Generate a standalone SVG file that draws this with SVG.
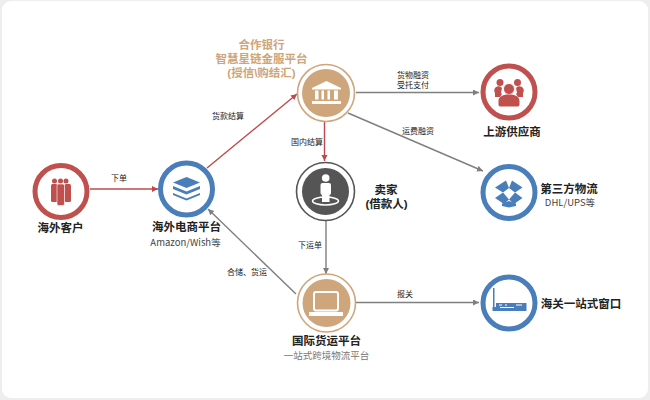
<svg xmlns="http://www.w3.org/2000/svg" width="650" height="400" viewBox="0 0 650 400">
<style>
text{font-family:"Noto Sans CJK SC","Liberation Sans",sans-serif;text-anchor:middle}
.t{font-size:11.5px;font-weight:700;fill:#222}
.s{font-size:9.5px;fill:#444}
.e{font-size:8px;fill:#222}
.g{font-size:11.5px;font-weight:700;fill:#cda57a}
text.m{font-family:"Liberation Sans","Noto Sans CJK SC",sans-serif}
.r{stroke:#c0484a;stroke-width:1.4;fill:none;marker-end:url(#ar)}
.k{stroke:#7f7f7f;stroke-width:1.4;fill:none;marker-end:url(#ak)}
.ring{fill:#fff;stroke-width:5}
.thin{fill:#fff;stroke-width:1.6}
.red{stroke:#c0504d}.blue{stroke:#4a7ebb}.tan{stroke:#cfa67c}.dark{stroke:#555}
.fr{fill:#c0504d}.fb{fill:#4a7ebb}.ft{fill:#cfa67c}.fd{fill:#555}
.w{fill:#fff}
</style>
<defs>
<marker id="ar" markerWidth="7" markerHeight="7" refX="6" refY="3" orient="auto" markerUnits="userSpaceOnUse"><path d="M0 0L6 3L0 6z" fill="#c0484a"/></marker>
<marker id="ak" markerWidth="7" markerHeight="7" refX="6" refY="3" orient="auto" markerUnits="userSpaceOnUse"><path d="M0 0L6 3L0 6z" fill="#7f7f7f"/></marker>
</defs>
<rect width="650" height="400" fill="#eeeeee"/>
<rect x="2" y="1" width="646" height="397" rx="9" fill="#fff"/>
<g id="connectors">
<path class="r" d="M90 189H158"/>
<path class="r" d="M207 168L297 94"/>
<path class="r" d="M324.500 122V161"/>
<path class="k" d="M356 92.500H479"/>
<path class="k" d="M348 113L483 171"/>
<path class="k" d="M326 221V274"/>
<path class="k" d="M296 294L208 209"/>
<path class="k" d="M356 302.500H479"/>
<text class="e" x="119" y="181">下单</text>
<text class="e" x="228" y="119">货款结算</text>
<text class="e" x="307" y="145">国内结算</text>
<text class="e m"><tspan x="413" y="78">货物融资</tspan><tspan x="413" y="87.500">受托支付</tspan></text>
<text class="e" x="418" y="134">运费融资</text>
<text class="e" x="310" y="248">下运单</text>
<text class="e" x="247" y="275">合储、货运</text>
<text class="e" x="405" y="297">报关</text>
</g>
<g id="customer">
<circle class="ring red" cx="61" cy="191.500" r="26"/>
<g class="fr"><rect x="51" y="184" width="6.500" height="18" rx="1.500"/><rect x="64.500" y="184" width="6.500" height="18" rx="1.500"/><circle cx="54.500" cy="181" r="2.500"/><circle cx="66" cy="181" r="2.500"/><circle cx="60.500" cy="181" r="2.500"/><rect x="57" y="184" width="7.500" height="21.500" rx="1.500" stroke="#fff" stroke-width=".6"/></g>
<text class="t" x="60.500" y="232">海外客户</text>
</g>
<g id="ecommerce">
<circle class="ring blue" cx="186.500" cy="189" r="26"/>
<g class="fb"><path d="M186.500 177L200 182.500L186.500 188L173 182.500z"/><path d="M173 186L186.500 191.500L200 186V189L186.500 194.500L173 189z"/><path d="M173 193L186.500 198.500L200 193V195L186.500 200.500L173 195z"/></g>
<text class="t" x="186.500" y="231">海外电商平台</text>
<text class="s" x="185.500" y="245.500">Amazon/Wish等</text>
</g>
<g id="bank">
<circle class="thin tan" cx="326" cy="93" r="28.500"/>
<circle class="ft" cx="326" cy="93" r="24"/>
<path class="w" d="M326.500 81L341 88V89.500H312V88z"/>
<rect class="w" x="315" y="90.500" width="3.500" height="9"/><rect class="w" x="321.500" y="90.500" width="2.500" height="9"/><rect class="w" x="327.500" y="90.500" width="2.500" height="9"/><rect class="w" x="334" y="90.500" width="4" height="9"/>
<rect class="w" x="312" y="101" width="29" height="3"/>
<text class="g m"><tspan x="261.500" y="49">合作银行</tspan><tspan x="261.500" y="63">智慧星链金服平台</tspan><tspan x="261.500" y="76.500">(授信\购结汇)</tspan></text>
</g>
<g id="seller">
<circle class="thin dark" cx="325.500" cy="191.500" r="29"/>
<circle class="fd" cx="325.500" cy="191.500" r="23.500"/>
<circle class="w" cx="325.700" cy="178" r="3.800"/>
<rect class="w" x="320.500" y="183" width="10.500" height="12" rx="2"/><rect class="w" x="322" y="194" width="7.500" height="8"/>
<ellipse cx="325.500" cy="201" rx="13" ry="4" fill="none" stroke="#fff" stroke-width="1.500"/>
<text class="t m"><tspan x="386" y="194">卖家</tspan><tspan x="386.500" y="208">(借款人)</tspan></text>
</g>
<g id="freight">
<circle class="thin tan" cx="326.500" cy="303" r="29"/>
<circle class="ft" cx="326.500" cy="303" r="24"/>
<rect x="314" y="292" width="24" height="18.500" rx="2" fill="none" stroke="#fff" stroke-width="2"/>
<path class="w" d="M309 312H343V316H309z"/>
<text class="t" x="326.500" y="345">国际货运平台</text>
<text class="s" x="326.500" y="358.500" style="fill:#777">一站式跨境物流平台</text>
</g>
<g id="supplier">
<circle class="ring red" cx="509" cy="92" r="26"/>
<g class="fr"><circle cx="500" cy="82.500" r="3.500"/><circle cx="517.500" cy="82.500" r="3.500"/><path d="M495 93a4 4 0 0 1 7-5l-1 5 1 1-2 3h-5z"/><path d="M523 93a4 4 0 0 0-7-5l1 5-1 1 2 3h5z"/><circle cx="509" cy="89" r="5.500" stroke="#fff" stroke-width=".8"/><path d="M498.500 105V101c0-5 5-6.500 10.500-6.500s10.500 1.500 10.500 6.500v4a2 2 0 0 1-2 1.500h-17a2 2 0 0 1-2-1.500z"/></g>
<text class="t" x="512" y="136">上游供应商</text>
</g>
<g id="logistics">
<circle class="ring blue" cx="509" cy="192.500" r="26"/>
<g class="fb"><path d="M506 180.500L495 187.500L503 192.500L509 188z"/><path d="M512 180.500L522.500 187.500L515 192.500L509 188z"/><path d="M503 192.500L495 198L504 204L509 199.500z"/><path d="M515 192.500L522.500 198L514 204L509 199.500z"/><path d="M502 203.500V206L509 207.500V201z"/><path d="M516 203.500V206L509 207.500V201z"/></g>
<text class="t" x="569" y="193">第三方物流</text>
<text class="s" x="570" y="206">DHL/UPS等</text>
</g>
<g id="customs">
<circle class="ring blue" cx="509" cy="303" r="26"/>
<g class="fb"><rect x="493" y="288" width="1.500" height="19"/><rect x="496" y="303" width="30.500" height="8"/><rect x="492.500" y="307" width="6" height="4"/></g>
<rect class="w" x="499" y="304.500" width="3" height="1"/><rect class="w" x="505" y="304.500" width="2" height="1"/><rect class="w" x="516" y="304.500" width="6" height="1"/><rect class="w" x="500" y="307" width="14" height="1"/>
<text class="t" x="581" y="307.500">海关一站式窗口</text>
</g>
</svg>
